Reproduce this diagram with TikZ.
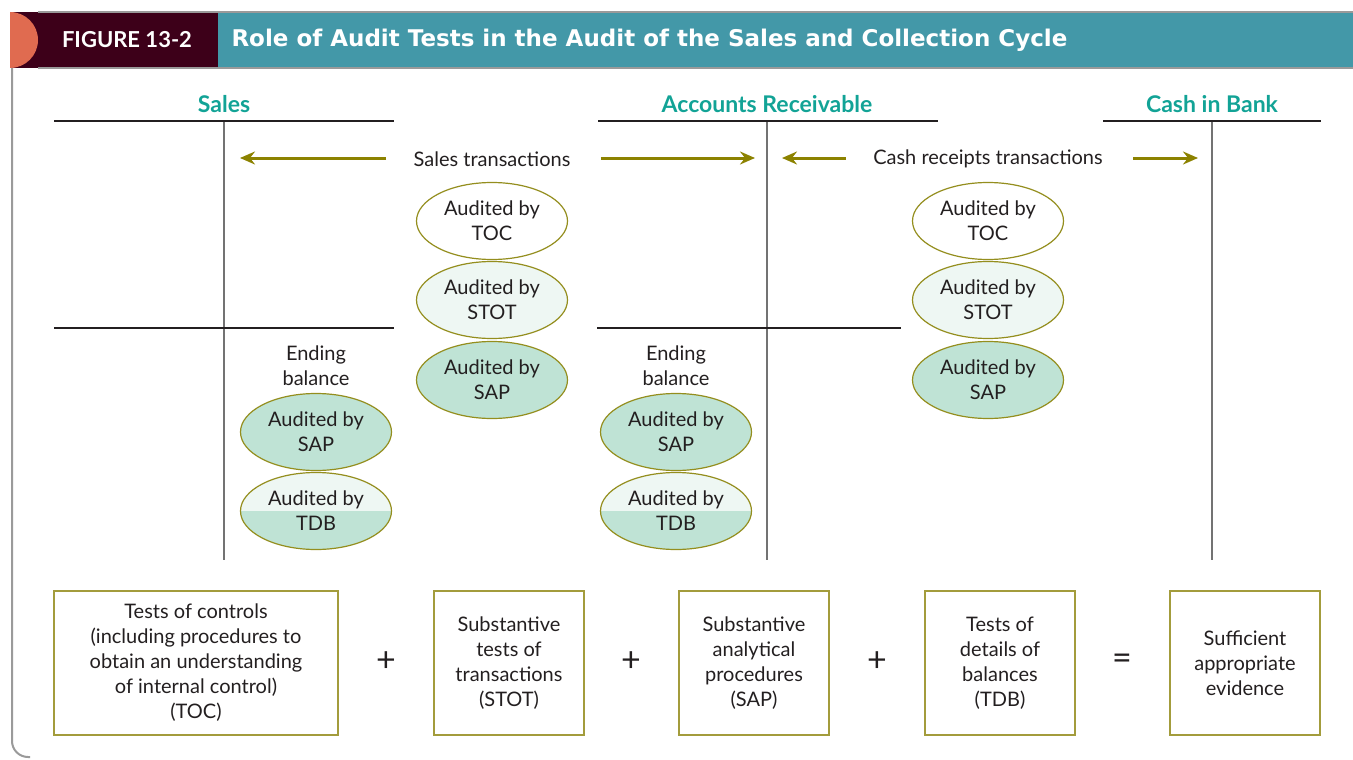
\documentclass[tikz,border=0pt]{standalone}
\usepackage{fontspec}
\setmainfont{Lato}
\newfontfamily\headfont{DejaVu Sans}
\usetikzlibrary{arrows.meta,shapes.geometric}
\definecolor{ink}{HTML}{231F20}
\definecolor{maroon}{HTML}{3D0019}
\definecolor{barteal}{HTML}{4398A8}
\definecolor{tabred}{HTML}{E06B50}
\definecolor{headteal}{HTML}{12A396}
\definecolor{olive}{HTML}{8C8200}
\definecolor{rimolive}{HTML}{948E1E}
\definecolor{boxolive}{HTML}{A39C3C}
\definecolor{mint}{HTML}{BFE3D5}
\definecolor{lightmint}{HTML}{EEF7F3}
\definecolor{frame}{HTML}{9A9A9A}
\begin{document}
\begin{tikzpicture}[x=1pt, y=-1pt,
  every node/.style={text=ink, font=\fontsize{20}{25}\selectfont},
  acctitle/.style={font=\fontsize{23}{25}\selectfont\bfseries, text=headteal},
  topline/.style={line width=2pt, ink},
  midline/.style={line width=1.1pt, ink},
  stem/.style={line width=2pt, black!55},
  flow/.style={draw=olive, line width=3pt, -{Stealth[length=15pt,width=13pt,inset=5pt]}, shorten <=27pt},
  audit/.style={ellipse, draw=rimolive, line width=1.2pt, minimum width=151pt, minimum height=77pt, inner sep=0pt, align=center},
  toc/.style={audit, fill=white},
  stot/.style={audit, fill=lightmint},
  sap/.style={audit, fill=mint},
  tdb/.style={audit, fill=lightmint, path picture={\fill[mint] (path picture bounding box.west) rectangle (path picture bounding box.south east);}},
  testbox/.style={draw=boxolive, line width=1.4pt, align=center, minimum height=144pt, minimum width=150pt, inner sep=0pt},
  sign/.style={font=\fontsize{34}{34}\selectfont}]
\useasboundingbox (0,0) rectangle (1353,760);
% Header bar and frame
\fill[barteal] (218,12) rectangle (1353,68);
\fill[maroon] (10,12) rectangle (218,68);
\fill[tabred] (10,12) arc (-90:90:28) -- cycle;
\draw[frame, line width=1.2pt] (38,12) -- (1353,12);
\draw[frame, line width=1.2pt] (38,68) -- (1353,68);
\draw[frame, line width=2pt] (12,68) -- (12,741) arc (180:90:16) -- (30,757);
\node[text=white, font=\fontsize{22}{24}\selectfont\bfseries] (fig) at (127,40) {FIGURE 13-2};
\node[text=white, font=\fontsize{23}{26}\headfont\bfseries, anchor=west] (caption) at (228,40) {Role of Audit Tests in the Audit of the Sales and Collection Cycle};
% T-accounts
\node[acctitle] (salesTitle) at (224,104) {Sales};
\node[acctitle] (arTitle) at (767,104) {Accounts Receivable};
\node[acctitle] (cashTitle) at (1212,104) {Cash in Bank};
\draw[topline] (54,121) -- (394,121);
\draw[topline] (598,121) -- (938,121);
\draw[topline] (1103,121) -- (1321,121);
\draw[stem] (224,122) -- (224,560);
\draw[stem] (767,122) -- (767,560);
\draw[stem] (1212,122) -- (1212,560);
\draw[midline] (54,328) -- (394,328);
\draw[midline] (597,328) -- (901,328);
% Transactions
\node (salesTxn) at (492,159) {Sales transactions};
\node (cashTxn) at (988,159) {Cash receipts transactions};
\coordinate (salesTip) at (240,158);
\coordinate (arTip) at (755,158);
\coordinate (arTipB) at (782,158);
\coordinate (cashTip) at (1198,158);
\draw[flow, shorten <=24pt] (salesTxn.west |- salesTip) -- (salesTip);
\draw[flow] (salesTxn.east |- arTip) -- (arTip);
\draw[flow, shorten <=24pt] (cashTxn.west |- arTipB) -- (arTipB);
\draw[flow] (cashTxn.east |- cashTip) -- (cashTip);
% Sales transactions audits
\node[toc] (tocSales) at (492,221) {Audited by\\TOC};
\node[stot] (stotSales) at (492,300) {Audited by\\STOT};
\node[sap] (sapSales) at (492,380) {Audited by\\SAP};
% Cash receipts audits
\node[toc] (tocCash) at (988,221) {Audited by\\TOC};
\node[stot] (stotCash) at (988,300) {Audited by\\STOT};
\node[sap] (sapCash) at (988,380) {Audited by\\SAP};
% Ending balances
\node[align=center] (ebSales) at (316,366) {Ending\\balance};
\node[sap] (sapEbSales) at (316,432) {Audited by\\SAP};
\node[tdb] (tdbEbSales) at (316,511) {Audited by\\TDB};
\node[align=center] (ebAR) at (676,366) {Ending\\balance};
\node[sap] (sapEbAR) at (676,432) {Audited by\\SAP};
\node[tdb] (tdbEbAR) at (676,511) {Audited by\\TDB};
% Evidence equation
\node[testbox, minimum width=284pt] (boxTOC) at (196,663) {Tests of controls\\(including procedures to\\obtain an understanding\\of internal control)\\(TOC)};
\node[sign] (plusA) at (386,662) {+};
\node[testbox] (boxSTOT) at (509,663) {Substantive\\tests of\\transactions\\(STOT)};
\node[sign] (plusB) at (631,662) {+};
\node[testbox] (boxSAP) at (754,663) {Substantive\\analytical\\procedures\\(SAP)};
\node[sign] (plusC) at (877,662) {+};
\node[testbox] (boxTDB) at (1000,663) {Tests of\\details of\\balances\\(TDB)};
\node[sign] (equals) at (1122,662) {=};
\node[testbox] (boxSAE) at (1245,663) {Sufficient\\appropriate\\evidence};
\end{tikzpicture}
\end{document}
